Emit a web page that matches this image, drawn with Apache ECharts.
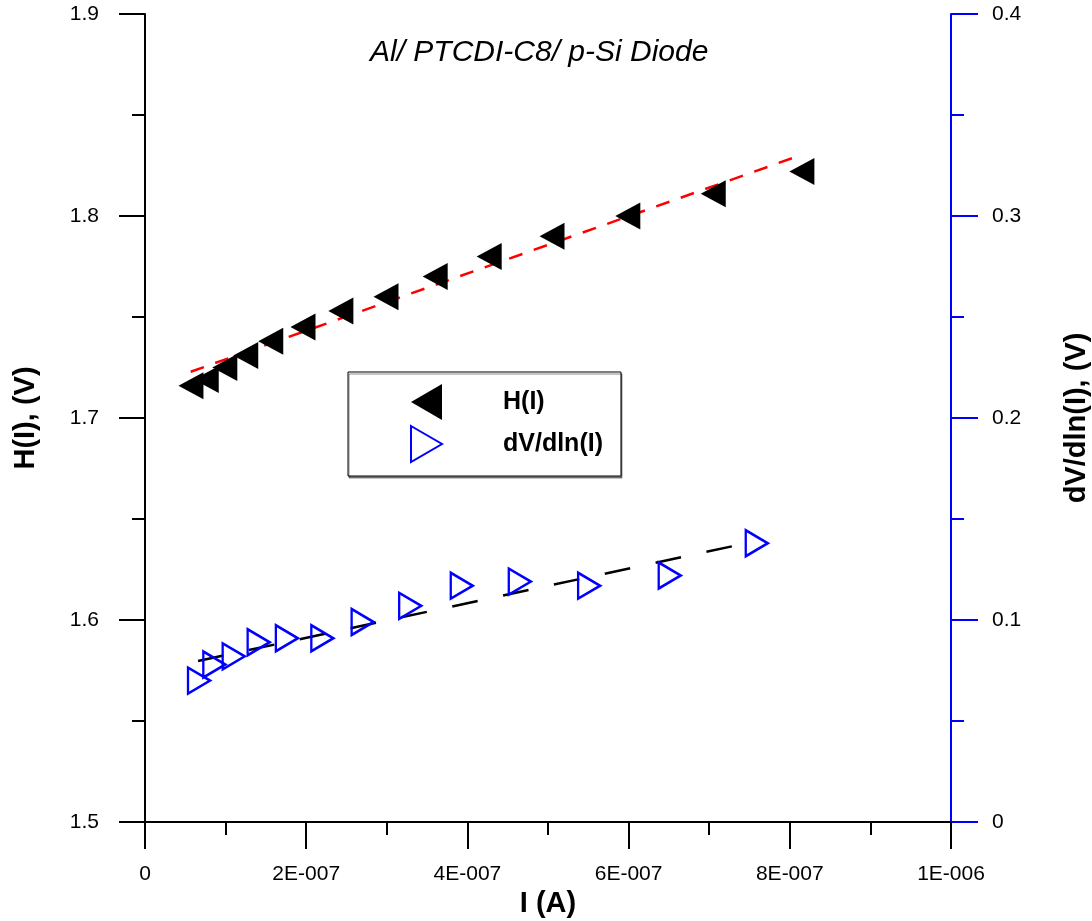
<!DOCTYPE html>
<html>
<head>
<meta charset="utf-8">
<script src="https://cdn.jsdelivr.net/npm/echarts@6/dist/echarts.min.js"></script>
<style>html,body{margin:0;padding:0;background:#fff;}#c{width:1092px;height:921px;}</style>
</head>
<body>
<div id="c"></div>
<script>
// ---- data ----
const hX = [5.7e-8, 7.6e-8, 9.9e-8, 1.25e-7, 1.56e-7, 1.96e-7, 2.43e-7, 2.99e-7, 3.6e-7, 4.27e-7, 5.05e-7, 5.99e-7, 7.05e-7, 8.15e-7];
const hY = [1.716, 1.719, 1.725, 1.731, 1.738, 1.745, 1.753, 1.760, 1.770, 1.780, 1.790, 1.800, 1.811, 1.822];
const dX = [6.7e-8, 8.6e-8, 1.10e-7, 1.41e-7, 1.76e-7, 2.2e-7, 2.7e-7, 3.29e-7, 3.93e-7, 4.65e-7, 5.51e-7, 6.51e-7, 7.59e-7];
const dY = [0.070, 0.078, 0.082, 0.089, 0.091, 0.091, 0.099, 0.107, 0.117, 0.119, 0.117, 0.122, 0.138];
const hFitX = [5.67e-8, 8.14e-7];
const hFitY = [1.7229, 1.8302];
const dFitX = [6.58e-8, 7.59e-7];
const dFitY = [0.0797, 0.1391];
const xTickLabels = ['0', '2E-007', '4E-007', '6E-007', '8E-007', '1E-006'];
const leftTickLabels = ['1.5', '1.6', '1.7', '1.8', '1.9'];
const rightTickLabels = ['0', '0.1', '0.2', '0.3', '0.4'];
const titleText = 'Al/ PTCDI-C8/ p-Si Diode';

const FONT = "'Liberation Sans', Arial, sans-serif";
const zip = (a, b) => a.map((v, i) => [v, b[i]]);
const LEFT_TRI = 'path://M0,50 L100,0 L100,100 Z';
const RIGHT_TRI = 'path://M0,0 L100,50 L0,100 Z';
const LEFT_TRI_LEG = 'path://M0,18 L31,0 L31,36 Z';
const RIGHT_TRI_LEG = 'path://M0,0 L31,18 L0,36 Z';

const chart = echarts.init(document.getElementById('c'), null, {renderer: 'canvas'});
const tickStyle = {color: '#000', width: 2};
const axisNameStyle = {fontFamily: FONT, fontSize: 29, fontWeight: 'bold', color: '#000'};
chart.setOption({
  animation: false,
  backgroundColor: '#fff',
  title: {
    text: titleText, left: 365, top: 33,
    textStyle: {fontFamily: FONT, fontSize: 30, fontStyle: 'italic', fontWeight: 'normal', color: '#000'}
  },
  grid: {left: 145, right: 141, top: 14, bottom: 99, containLabel: false, outerBoundsMode: 'none'},
  legend: {
    data: [{name: 'H(I)', icon: LEFT_TRI_LEG}, {name: 'dV/dln(I)', icon: RIGHT_TRI_LEG}],
    orient: 'vertical', left: 348, top: 372,
    padding: [12, 18, 13, 62],
    itemWidth: 31, itemHeight: 36, itemGap: 5,
    borderColor: '#000', borderWidth: 1,
    backgroundColor: '#fff',
    shadowColor: 'rgba(0,0,0,0.45)', shadowOffsetY: 2, shadowOffsetX: 1, shadowBlur: 0,
    textStyle: {fontFamily: FONT, fontSize: 25, fontWeight: 'bold', color: '#000', padding: [0, 0, 0, 56]}
  },
  xAxis: [{
    type: 'value', min: 0, max: 1e-6, interval: 2e-7,
    position: 'bottom',
    name: 'I (A)', nameLocation: 'middle', nameGap: 56,
    nameTextStyle: axisNameStyle,
    axisLine: {show: true, onZero: false, lineStyle: {color: '#000', width: 2}},
    axisTick: {show: true, length: 27, lineStyle: tickStyle},
    minorTick: {show: true, splitNumber: 2, length: 13, lineStyle: tickStyle},
    splitLine: {show: false},
    axisLabel: {margin: 42, fontFamily: FONT, fontSize: 21, color: '#000',
      formatter: v => xTickLabels[Math.round(v / 2e-7)]}
  }, {
    type: 'value', min: 0, max: 1e-6, position: 'top',
    axisLine: {show: true, lineStyle: {color: '#000', width: 2}},
    axisTick: {show: false}, axisLabel: {show: false}, splitLine: {show: false}
  }],
  yAxis: [{
    type: 'value', min: 1.5, max: 1.9, interval: 0.1, position: 'left',
    name: 'H(I), (V)', nameLocation: 'middle', nameGap: 105, nameRotate: 90,
    nameTextStyle: axisNameStyle,
    axisLine: {show: true, onZero: false, lineStyle: {color: '#000', width: 2}},
    axisTick: {show: true, length: 26, lineStyle: tickStyle},
    minorTick: {show: true, splitNumber: 2, length: 13, lineStyle: tickStyle},
    splitLine: {show: false},
    axisLabel: {margin: 46, fontFamily: FONT, fontSize: 21, color: '#000',
      formatter: v => leftTickLabels[Math.round((v - 1.5) / 0.1)]}
  }, {
    type: 'value', min: 0, max: 0.4, interval: 0.1, position: 'right',
    name: 'dV/dln(I), (V)', nameLocation: 'middle', nameGap: 111, nameRotate: 90,
    nameTextStyle: axisNameStyle,
    axisLine: {show: true, onZero: false, lineStyle: {color: '#0000ff', width: 2}},
    axisTick: {show: true, length: 27, lineStyle: {color: '#0000ff', width: 2}},
    minorTick: {show: true, splitNumber: 2, length: 13, lineStyle: {color: '#0000ff', width: 2}},
    splitLine: {show: false},
    axisLabel: {margin: 41, fontFamily: FONT, fontSize: 21, color: '#000',
      formatter: v => rightTickLabels[Math.round(v / 0.1)]}
  }],
  series: [{
    name: 'H(I) fit', type: 'line', xAxisIndex: 0, yAxisIndex: 0,
    data: zip(hFitX, hFitY), symbol: 'none', silent: true, z: 1,
    lineStyle: {color: '#ff0000', width: 2.5, type: [14, 12]}
  }, {
    name: 'dV fit', type: 'line', xAxisIndex: 0, yAxisIndex: 1,
    data: zip(dFitX, dFitY), symbol: 'none', silent: true, z: 1,
    lineStyle: {color: '#000', width: 2.5, type: [26, 26]}
  }, {
    name: 'H(I)', type: 'scatter', xAxisIndex: 0, yAxisIndex: 0,
    data: zip(hX, hY), symbol: LEFT_TRI, symbolSize: [25, 27], z: 3,
    itemStyle: {color: '#000', opacity: 1}
  }, {
    name: 'dV/dln(I)', type: 'scatter', xAxisIndex: 0, yAxisIndex: 1,
    data: zip(dX, dY), symbol: RIGHT_TRI, symbolSize: [22, 26], z: 3,
    itemStyle: {color: 'rgba(255,255,255,0)', borderColor: '#0000ff', borderWidth: 2.5, opacity: 1}
  }]
});
</script>
</body>
</html>
